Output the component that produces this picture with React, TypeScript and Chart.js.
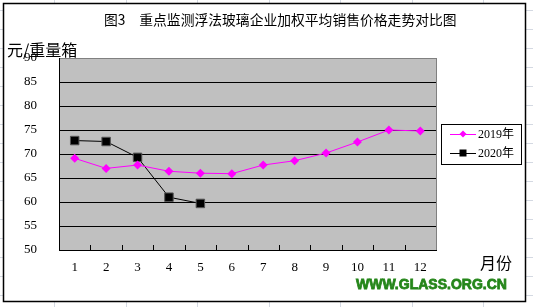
import React, { useEffect, useRef } from 'react';
import { Chart, registerables } from 'chart.js';

Chart.register(...registerables);

const months = ['1', '2', '3', '4', '5', '6', '7', '8', '9', '10', '11', '12'];
const series2019 = [69.1, 67.0, 67.7, 66.4, 66.0, 65.9, 67.7, 68.6, 70.2, 72.5, 75.0, 74.8];
const series2020 = [72.8, 72.6, 69.3, 61.0, 59.7];
const yMin = 50;
const yMax = 90;
const yStep = 5;
const legendLabels = ['2019年', '2020年'];
const titleText = '图3　重点监测浮法玻璃企业加权平均销售价格走势对比图';
const yTitle = '元/重量箱';
const xTitle = '月份';
const watermark = 'WWW.GLASS.ORG.CN';

const W = 533;
const H = 307;
const numFont = "'Liberation Serif', 'Noto Sans CJK SC', serif";
const cjkFont = "'Noto Sans CJK SC', sans-serif";

const decor = {
  id: 'decor',
  beforeDraw(chart: any) {
    const { ctx, chartArea: a } = chart;
    ctx.save();
    ctx.fillStyle = '#fff';
    ctx.fillRect(0, 0, W, H);
    ctx.strokeStyle = '#d4d9e2';
    ctx.lineWidth = 1;
    for (let y = 10; y < H; y += 19) {
      ctx.beginPath();
      ctx.moveTo(0, y + 0.5);
      ctx.lineTo(W, y + 0.5);
      ctx.stroke();
    }
    for (let x = 54; x < W; x += 71.5) {
      ctx.beginPath();
      ctx.moveTo(Math.round(x) + 0.5, 0);
      ctx.lineTo(Math.round(x) + 0.5, H);
      ctx.stroke();
    }
    ctx.fillStyle = '#fff';
    ctx.fillRect(3, 3, 523, 299);
    ctx.strokeStyle = '#000';
    ctx.lineWidth = 1.5;
    ctx.strokeRect(3.5, 3.5, 522, 298);
    ctx.fillStyle = '#c0c0c0';
    ctx.fillRect(a.left, a.top, a.right - a.left, a.bottom - a.top);
    ctx.restore();
  },
  beforeDatasetsDraw(chart: any) {
    const { ctx, chartArea: a, scales } = chart;
    const xs = scales.x;
    ctx.save();
    ctx.strokeStyle = '#808080';
    ctx.lineWidth = 1;
    ctx.beginPath();
    ctx.moveTo(Math.round(a.right) + 0.5, a.top);
    ctx.lineTo(Math.round(a.right) + 0.5, a.bottom);
    ctx.stroke();
    ctx.strokeStyle = '#000';
    for (let i = 1; i < months.length; i++) {
      const x = Math.round((xs.getPixelForTick(i - 1) + xs.getPixelForTick(i)) / 2) + 0.5;
      ctx.beginPath();
      ctx.moveTo(x, a.bottom);
      ctx.lineTo(x, a.bottom - 5);
      ctx.stroke();
    }
    ctx.restore();
  },
  afterDraw(chart: any) {
    const { ctx } = chart;
    ctx.save();
    ctx.fillStyle = '#000';
    ctx.textBaseline = 'middle';
    ctx.textAlign = 'left';
    ctx.font = `13.8px ${cjkFont}`;
    ctx.fillText(titleText, 104, 20);
    ctx.font = `16px ${cjkFont}`;
    ctx.fillText(yTitle, 7, 50);
    ctx.fillText(xTitle, 480, 263);
    ctx.font = `bold 14px 'Liberation Sans', Arial, sans-serif`;
    ctx.fillStyle = '#25861a';
    ctx.strokeStyle = '#25861a';
    ctx.lineWidth = 0.8;
    ctx.fillText(watermark, 356, 285);
    ctx.strokeText(watermark, 356, 285);
    const lx = 441, ly = 124, lw = 80, lh = 40;
    ctx.fillStyle = '#fff';
    ctx.fillRect(lx, ly, lw, lh);
    ctx.strokeStyle = '#000';
    ctx.lineWidth = 1;
    ctx.strokeRect(lx + 0.5, ly + 0.5, lw, lh);
    const rows = [
      { y: 134, color: '#ff00ff', style: 'diamond' },
      { y: 153, color: '#000', style: 'square' },
    ];
    rows.forEach((r, i) => {
      ctx.strokeStyle = r.color;
      ctx.lineWidth = 1;
      ctx.beginPath();
      ctx.moveTo(450, r.y + 0.5);
      ctx.lineTo(476, r.y + 0.5);
      ctx.stroke();
      ctx.fillStyle = r.color;
      const cx = 463;
      if (r.style === 'diamond') {
        ctx.beginPath();
        ctx.moveTo(cx, r.y - 3.5);
        ctx.lineTo(cx + 3.5, r.y);
        ctx.lineTo(cx, r.y + 3.5);
        ctx.lineTo(cx - 3.5, r.y);
        ctx.closePath();
        ctx.fill();
      } else {
        ctx.fillRect(cx - 3.5, r.y - 3.5, 7, 7);
      }
      ctx.fillStyle = '#000';
      ctx.font = `12px ${numFont}`;
      ctx.fillText(legendLabels[i], 478, r.y + 1);
    });
    ctx.restore();
  },
};

export default function App() {
  const ref = useRef<HTMLCanvasElement>(null);
  useEffect(() => {
    if (!ref.current) return;
    const chart = new Chart(ref.current, {
      type: 'line',
      data: {
        labels: months,
        datasets: [
          {
            label: legendLabels[0],
            data: series2019,
            borderColor: '#ff00ff',
            backgroundColor: '#ff00ff',
            borderWidth: 1,
            pointStyle: 'rectRot',
            pointRadius: 4.5,
            pointBorderWidth: 0,
            tension: 0,
          },
          {
            label: legendLabels[1],
            data: series2020,
            borderColor: '#000',
            backgroundColor: '#000',
            borderWidth: 1,
            pointStyle: 'rect',
            pointRadius: 6,
            pointBorderColor: '#555',
            pointBorderWidth: 1,
            tension: 0,
          },
        ],
      },
      options: {
        responsive: false,
        animation: false,
        layout: { padding: { left: 0, top: 58, right: 97, bottom: 0 } },
        plugins: {
          legend: { display: false },
          tooltip: { enabled: false },
          title: { display: false },
        },
        scales: {
          x: {
            type: 'category',
            offset: true,
            grid: { display: false, drawTicks: false },
            border: { display: true, color: '#000', width: 1 },
            ticks: {
              color: '#000',
              font: { family: numFont, size: 13 },
              padding: 10,
              maxRotation: 0,
              autoSkip: false,
            },
            afterFit(s: any) {
              s.height = 57;
            },
          },
          y: {
            min: yMin,
            max: yMax,
            ticks: {
              stepSize: yStep,
              color: '#000',
              font: { family: numFont, size: 13 },
              padding: 22,
            },
            grid: {
              color: (c: any) => (c.tick && c.tick.value === yMax ? '#808080' : '#000'),
              drawTicks: false,
            },
            border: { display: true, color: '#000', width: 1 },
            afterFit(s: any) {
              s.width = 59;
            },
          },
        },
      },
      plugins: [decor],
    });
    return () => chart.destroy();
  }, []);
  return (
    <div style={{ position: 'absolute', left: 0, top: 0, width: W, height: H }}>
      <canvas ref={ref} width={W} height={H} style={{ display: 'block', width: W, height: H }} />
    </div>
  );
}
